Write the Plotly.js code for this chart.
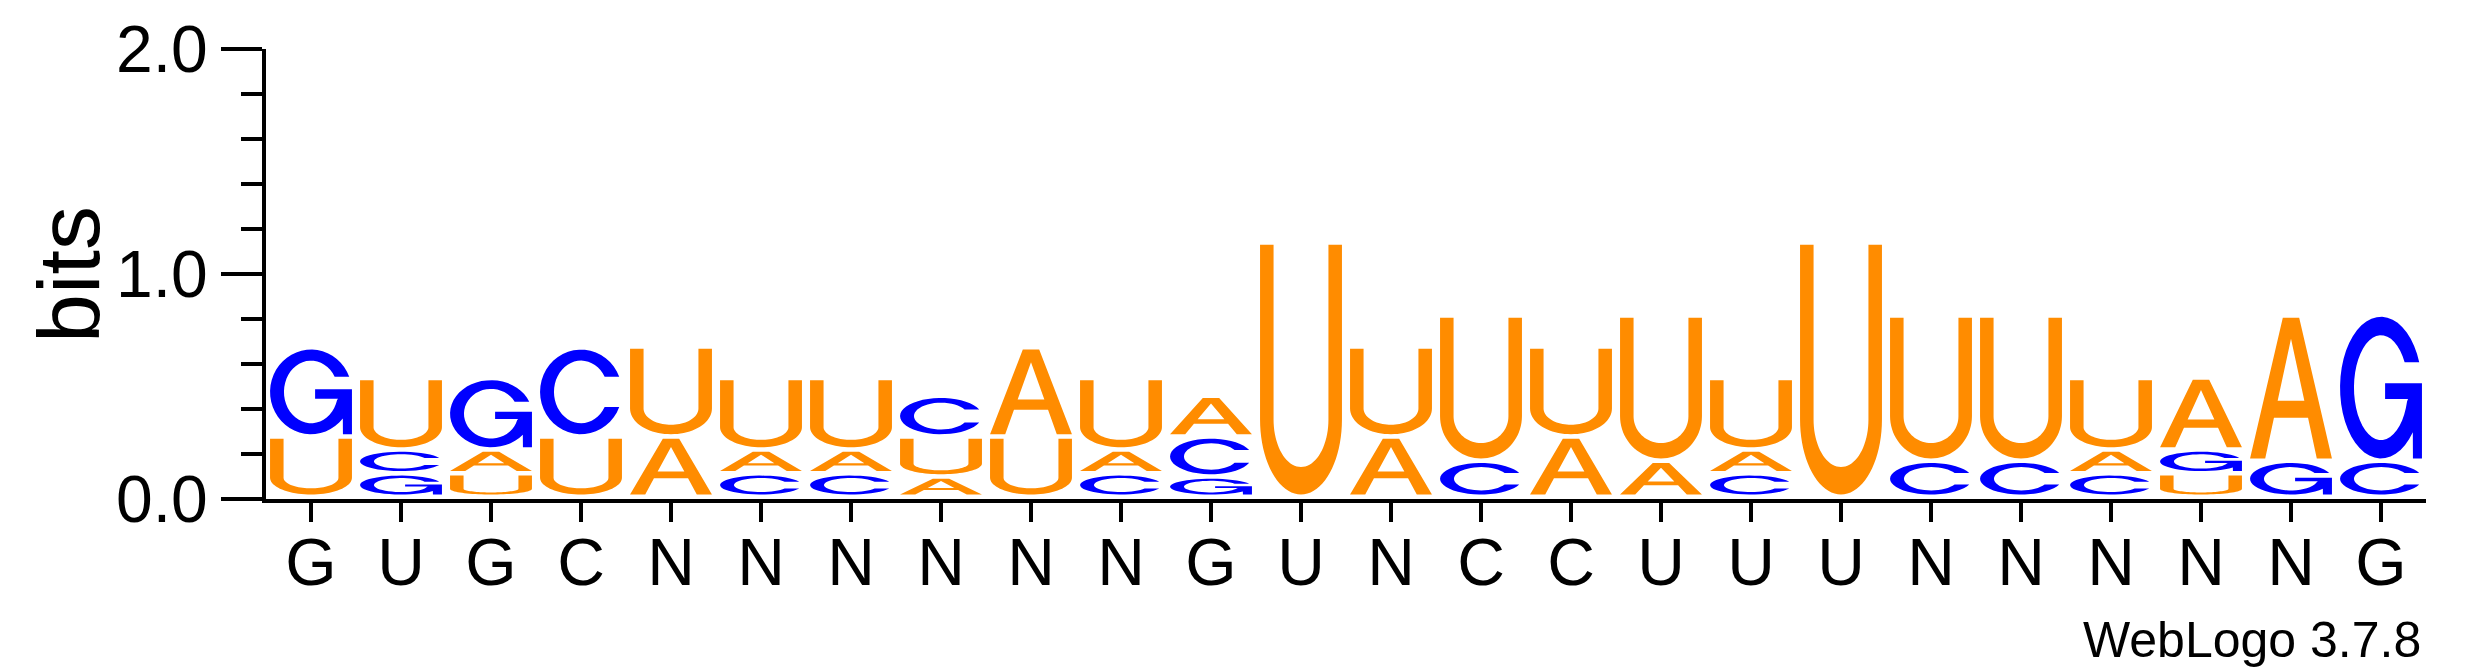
<!DOCTYPE html>
<html>
<head>
<meta charset="utf-8">
<script src="https://cdn.plot.ly/plotly-3.0.1.min.js"></script>
<style>body { margin: 0; background: #fff; }</style>
</head>
<body>
<div id="plot1" style="width:2475px;height:667px;"></div>
<script>
// sequence logo, 24 positions, heights in bits per letter

const tickLabels = ['G','U','G','C','N','N','N','N','N','N','G','U','N','C','C','U','U','U','N','N','N','N','N','G'];

const heightA = [0, 0, 0.106, 0, 0.268, 0.106, 0.106, 0.09, 0.396, 0.106, 0.181, 0, 0.268, 0, 0.268, 0.16, 0.106, 0, 0, 0, 0.106, 0.32, 0.646, 0];
const heightC = [0, 0.106, 0, 0.396, 0, 0.104, 0.104, 0.181, 0, 0.104, 0.178, 0, 0, 0.16, 0, 0, 0.104, 0, 0.16, 0.16, 0.104, 0, 0, 0.16];
const heightG = [0.396, 0.104, 0.318, 0, 0, 0, 0, 0, 0, 0, 0.09, 0, 0, 0, 0, 0, 0, 0, 0, 0, 0, 0.106, 0.16, 0.65];
const heightU = [0.268, 0.318, 0.104, 0.268, 0.40, 0.318, 0.318, 0.178, 0.268, 0.318, 0, 1.13, 0.40, 0.646, 0.40, 0.646, 0.318, 1.13, 0.646, 0.646, 0.318, 0.104, 0, 0];

const letterColor = { A: '#FF8C00', U: '#FF8C00', C: '#0000FF', G: '#0000FF' };

const halfW = 0.455;   // half glyph width, in positions
const gapBits = 0.02;  // small gap under every glyph

/////////////////////////////////////////////// glyphs ///////////////////////////////////////////////////////
// letter outlines in a unit box (0..1, 0..1), stretched into the stack later

function arc(cx, cy, rx, ry, a0, a1) {
  let pts = [];
  const n = 40;
  for (let i = 0; i <= n; i++) {
    const a = (a0 + (a1 - a0) * i / n) * Math.PI / 180;
    pts.push([cx + rx * Math.cos(a), cy + ry * Math.sin(a)]);
  }
  return pts;
}

function glyphU() {
  let r = [[0, 1], [0, 0.30]];
  r = r.concat(arc(0.5, 0.30, 0.5, 0.30, 180, 360));
  r = r.concat([[1, 1], [0.835, 1], [0.835, 0.30]]);
  r = r.concat(arc(0.5, 0.30, 0.335, 0.19, 360, 180));
  r.push([0.165, 1]);
  return [r];
}

function glyphA() {
  const outer = [[0, 0], [0.40, 1], [0.60, 1], [1, 0], [0.815, 0], [0.708, 0.29], [0.292, 0.29], [0.185, 0]];
  const hole = [[0.337, 0.41], [0.663, 0.41], [0.5, 0.85]];
  return [outer, hole];
}

function glyphC() {
  let r = arc(0.5, 0.5, 0.5, 0.5, 21, 339);
  r = r.concat(arc(0.5, 0.5, 0.33, 0.37, 331, 29));
  return [r];
}

function glyphG() {
  let r = arc(0.5, 0.5, 0.5, 0.5, 21, 321);
  r = r.concat([[0.89, 0], [1, 0], [1, 0.53], [0.55, 0.53], [0.55, 0.42], [0.83, 0.42]]);
  r = r.concat(arc(0.5, 0.5, 0.33, 0.37, 345, 29));
  return [r];
}

const glyphs = { A: glyphA(), C: glyphC(), G: glyphG(), U: glyphU() };

function glyphPath(letter, pos, y0, y1) {
  const yb = y0 + gapBits;
  let str = '';
  glyphs[letter].forEach(ring => {
    str += 'M' + ring.map(p => {
      const x = pos - halfW + p[0] * 2 * halfW;
      const y = yb + p[1] * (y1 - yb);
      return x.toFixed(4) + ',' + y.toFixed(4);
    }).join('L') + 'Z';
  });
  return str;
}

/////////////////////////////////////////////// stacks ///////////////////////////////////////////////////////
const positions = tickLabels.map((t, i) => i + 1);
let shapes = [];
let totals = [];

for (let i = 0; i < positions.length; i++) {
  let col = [
    ['A', heightA[i]], ['C', heightC[i]], ['G', heightG[i]], ['U', heightU[i]],
  ].filter(c => c[1] > 0);
  col.sort((a, b) => a[1] - b[1]);   // biggest letter on top
  let yCur = 0;
  col.forEach(c => {
    shapes.push({
      type: 'path',
      xref: 'x', yref: 'y',
      path: glyphPath(c[0], positions[i], yCur, yCur + c[1]),
      fillcolor: letterColor[c[0]],
      fillrule: 'evenodd',
      line: { width: 0 },
      layer: 'above',
    });
    yCur += c[1];
  });
  totals.push(yCur);
}

const trace = {
  x: positions,
  y: totals,
  type: 'scatter',
  mode: 'none',
  hoverinfo: 'skip',
  showlegend: false,
};

const fontFam = 'Arial, "Liberation Sans", Helvetica, sans-serif';

const layout = {
  width: 2475,
  height: 667,
  margin: { l: 266, r: 49, t: 49, b: 168 },
  paper_bgcolor: '#fff',
  plot_bgcolor: '#fff',
  font: { family: fontFam, color: '#000' },
  showlegend: false,
  xaxis: {
    range: [0.5, 24.5],
    tickvals: positions,
    ticktext: tickLabels,
    ticks: 'outside',
    ticklen: 19,
    tickwidth: 4,
    tickcolor: '#000',
    ticklabelstandoff: -16,
    showline: true,
    linewidth: 4,
    linecolor: '#000',
    showgrid: false,
    zeroline: false,
    tickfont: { size: 66, family: fontFam },
    fixedrange: true,
  },
  yaxis: {
    range: [0, 2],
    tick0: 0,
    dtick: 1,
    tickformat: '.1f',
    ticks: 'outside',
    ticklen: 41,
    tickwidth: 4,
    tickcolor: '#000',
    showline: true,
    linewidth: 4,
    linecolor: '#000',
    showgrid: false,
    zeroline: false,
    tickfont: { size: 66, family: fontFam },
    minor: { dtick: 0.2, ticks: 'outside', ticklen: 21, tickwidth: 4, tickcolor: '#000', showgrid: false },
    fixedrange: true,
  },
  shapes: shapes,
  annotations: [
  {
    // y axis title
    text: 'bits',
    xref: 'paper', yref: 'paper',
    x: -0.0912, y: 0.498,
    xanchor: 'center', yanchor: 'middle',
    textangle: -90,
    showarrow: false,
    font: { size: 88, family: fontFam, color: '#000' },
  },
  {
    text: 'WebLogo 3.7.8',
    xref: 'paper', yref: 'paper',
    x: 0.9986, y: -0.313,
    xanchor: 'right', yanchor: 'middle',
    showarrow: false,
    font: { size: 50, family: fontFam, color: '#000' },
  },
  ],
};

Plotly.newPlot('plot1', [trace], layout, { displayModeBar: false, staticPlot: true });
</script>
</body>
</html>
